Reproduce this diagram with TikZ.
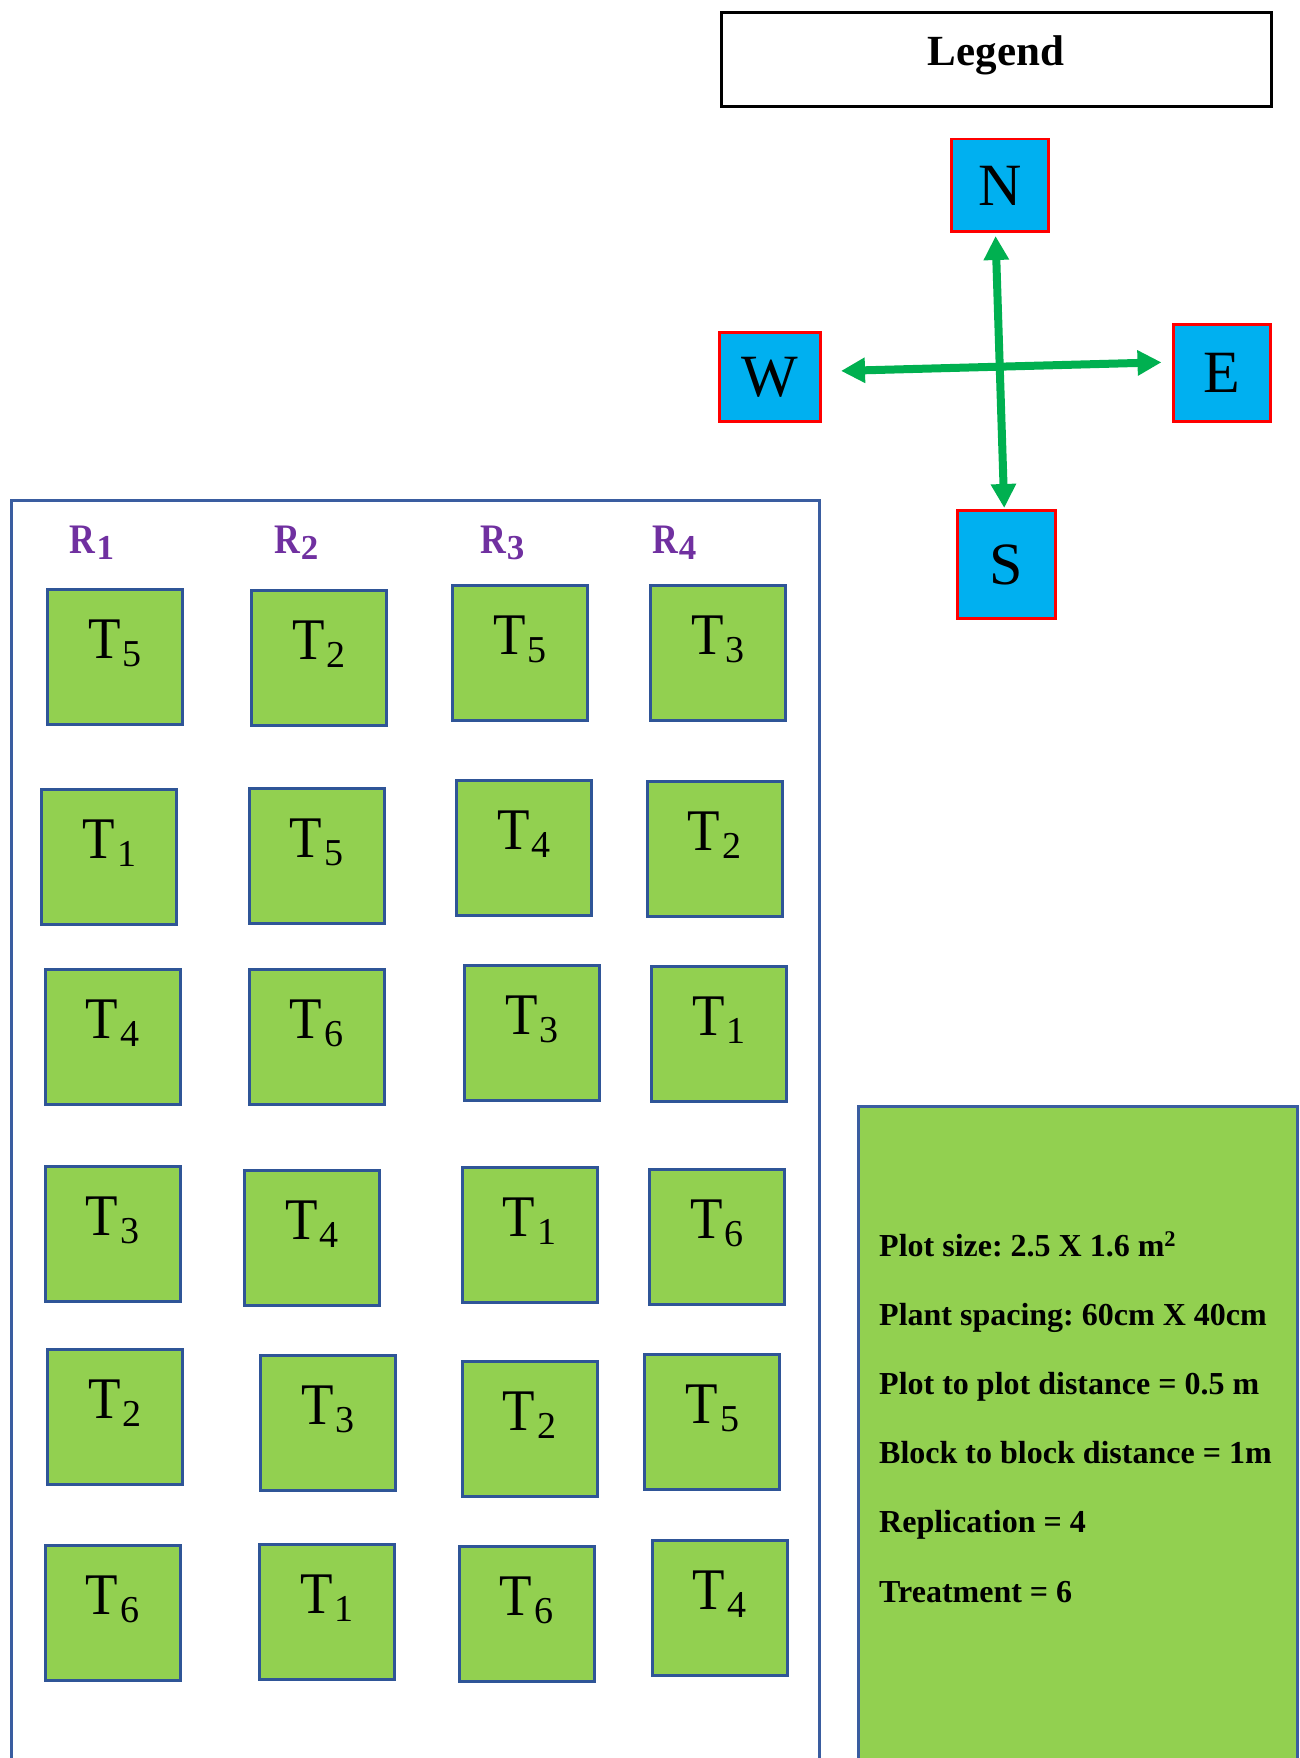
\documentclass[tikz,border=0pt]{standalone}
\usepackage{fontspec}
\usepackage{graphicx}
\setmainfont{Liberation Serif}
\usetikzlibrary{arrows.meta}
\frenchspacing
\definecolor{plotgreen}{HTML}{92D050}
\definecolor{plotblue}{HTML}{2F5597}
\definecolor{fieldblue}{HTML}{3A5DA0}
\definecolor{compcyan}{HTML}{00B0F0}
\definecolor{compred}{HTML}{FF0000}
\definecolor{arrgreen}{HTML}{00B050}
\definecolor{rpurple}{HTML}{7030A0}
\newcommand{\pl}[1]{\scalebox{0.9}[1]{T}\hspace{2pt}\raisebox{-8pt}{\fontsize{38}{38}\selectfont #1}}
\newcommand{\rl}[1]{\scalebox{0.85}[1]{R}\hspace{1pt}\raisebox{-6.5pt}{\fontsize{35}{35}\selectfont\bfseries #1}}
\begin{document}
\begin{tikzpicture}[x=1pt,y=-1pt,
  plotbox/.style={draw=plotblue, line width=3pt, fill=plotgreen, minimum width=135pt, minimum height=135pt,
    inner sep=0pt, anchor=north west, text height=40pt, text depth=37pt, font=\fontsize{59}{59}\selectfont},
  fieldbox/.style={draw=fieldblue, line width=2.5pt, anchor=north west, inner sep=0pt},
  infobox/.style={draw=fieldblue, line width=2.5pt, fill=plotgreen, anchor=north west, inner sep=0pt},
  infotext/.style={anchor=base west, inner sep=0pt, font=\fontsize{32}{32}\selectfont\bfseries},
  rlab/.style={anchor=base west, inner sep=0pt, text=rpurple, font=\fontsize{42}{42}\selectfont\bfseries},
  legendbox/.style={draw=black, line width=3pt, anchor=north west, inner sep=0pt, minimum width=550pt, minimum height=94pt,
    text height=30pt, text depth=18pt, font=\fontsize{43}{43}\selectfont\bfseries},
  compbox/.style={draw=compred, line width=2.5pt, fill=compcyan, anchor=north west, inner sep=0pt,
    text height=40pt, text depth=0pt, font=\fontsize{60}{60}\selectfont},
  comparrow/.style={draw=arrgreen, line width=8pt, {Triangle[length=24pt,width=24pt]}-{Triangle[length=24pt,width=24pt]}}
]
\useasboundingbox (0,0) rectangle (1299,1758);
\clip (0,0) rectangle (1299,1758);

% legend
\node[legendbox] (legend) at (719.5,11) {Legend};

% compass
\node[compbox, minimum width=97pt, minimum height=92pt] (N) at (950,138) {N};
\node[compbox, minimum width=101pt, minimum height=89pt] (W) at (718,331) {W};
\node[compbox, minimum width=97pt, minimum height=97pt] (E) at (1172,323) {E};
\node[compbox, minimum width=98pt, minimum height=108pt] (S) at (956,509) {S};
\draw[comparrow, shorten <=19.5pt, shorten >=10.5pt] ([yshift=5.3pt]W.east) -- ([yshift=10.7pt]E.west);
\draw[comparrow, shorten <=3.5pt, shorten >=1pt] ([xshift=-4.3pt]N.south) -- ([xshift=-2pt]S.north);

% field
\node[fieldbox, minimum width=808pt, minimum height=1300pt] (field) at (10,499) {};
\node[rlab] (r1) at (69.6,553) {\rl{1}};
\node[rlab] (r2) at (273.8,553) {\rl{2}};
\node[rlab] (r3) at (480,553) {\rl{3}};
\node[rlab] (r4) at (652,553) {\rl{4}};

% row 1
\node[plotbox] (p11) at (46,588) {\pl{5}};
\node[plotbox] (p12) at (250,589) {\pl{2}};
\node[plotbox] (p13) at (451,584) {\pl{5}};
\node[plotbox] (p14) at (649,584) {\pl{3}};
% row 2
\node[plotbox] (p21) at (40.3,788) {\pl{1}};
\node[plotbox] (p22) at (247.7,787) {\pl{5}};
\node[plotbox] (p23) at (455,779) {\pl{4}};
\node[plotbox] (p24) at (645.6,780) {\pl{2}};
% row 3
\node[plotbox] (p31) at (43.7,968.4) {\pl{4}};
\node[plotbox] (p32) at (247.7,968.4) {\pl{6}};
\node[plotbox] (p33) at (462.9,964) {\pl{3}};
\node[plotbox] (p34) at (650,965) {\pl{1}};
% row 4
\node[plotbox] (p41) at (43.7,1164.5) {\pl{3}};
\node[plotbox] (p42) at (243.2,1169) {\pl{4}};
\node[plotbox] (p43) at (460.6,1165.6) {\pl{1}};
\node[plotbox] (p44) at (647.8,1168) {\pl{6}};
% row 5
\node[plotbox] (p51) at (46,1348.3) {\pl{2}};
\node[plotbox] (p52) at (258.9,1354) {\pl{3}};
\node[plotbox] (p53) at (460.6,1359.5) {\pl{2}};
\node[plotbox] (p54) at (643.3,1352.8) {\pl{5}};
% row 6
\node[plotbox] (p61) at (43.7,1543.5) {\pl{6}};
\node[plotbox] (p62) at (257.8,1543.3) {\pl{1}};
\node[plotbox] (p63) at (457.5,1544.5) {\pl{6}};
\node[plotbox] (p64) at (650.5,1538.9) {\pl{4}};

% info box
\node[infobox, minimum width=439pt, minimum height=700pt] (info) at (857,1105) {};
\node[infotext] (i1) at (879,1256) {Plot size: 2.5 X 1.6 m\textsuperscript{2}};
\node[infotext] (i2) at (879,1325) {Plant spacing: 60cm X 40cm};
\node[infotext] (i3) at (879,1394) {Plot to plot distance = 0.5 m};
\node[infotext] (i4) at (879,1463) {Block to block distance = 1m};
\node[infotext] (i5) at (879,1532) {Replication = 4};
\node[infotext] (i6) at (879,1602) {Treatment = 6};
\end{tikzpicture}
\end{document}
